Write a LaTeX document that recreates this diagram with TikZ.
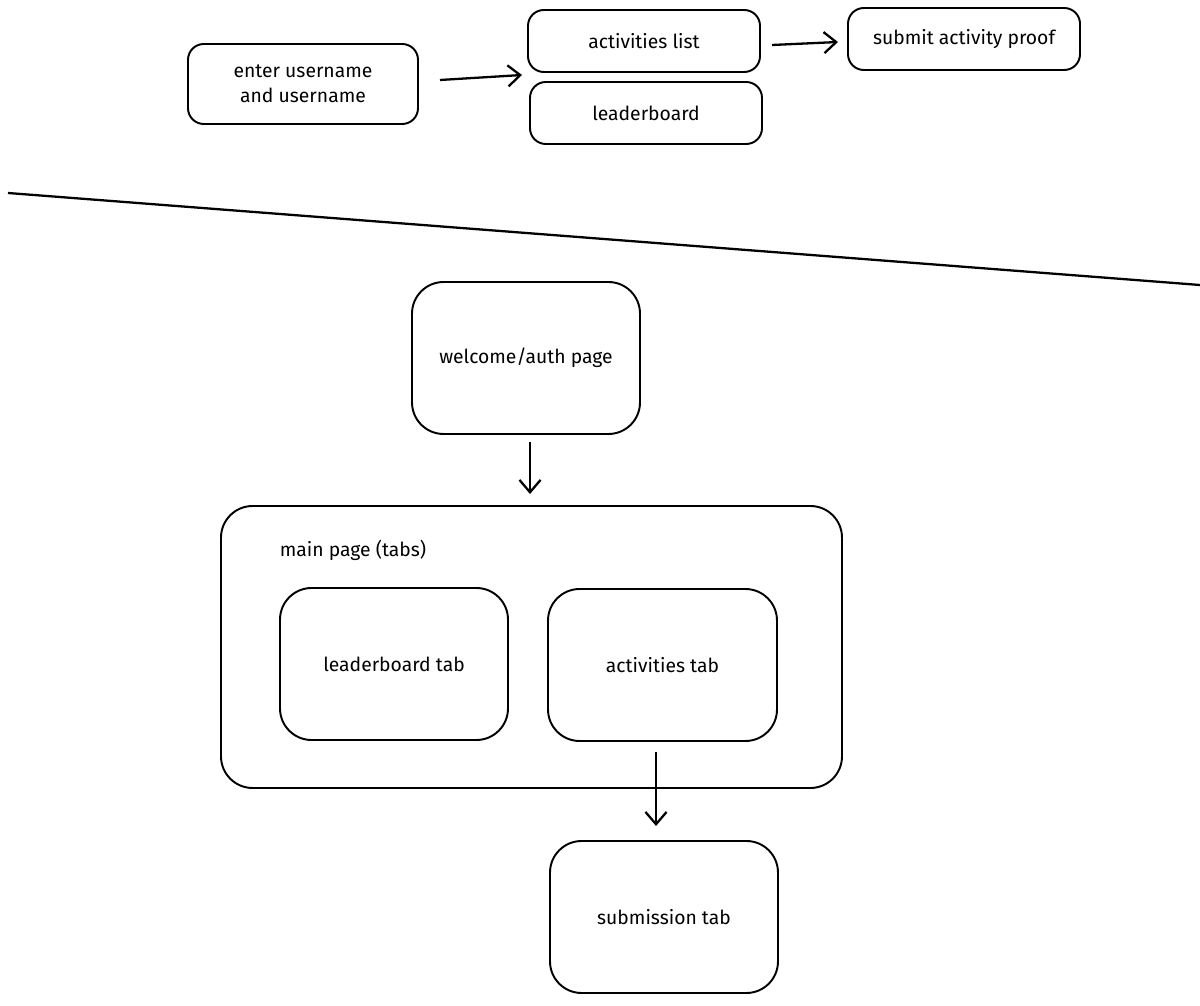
\documentclass[tikz,border=0pt]{standalone}
\usepackage{fontspec}
\setmainfont{Fira Sans}
\usetikzlibrary{arrows.meta}
\begin{document}
\begin{tikzpicture}[x=0.02cm,y=-0.02cm,
  box/.style={draw,line width=1.1pt,rounded corners=9pt,align=center,font=\fontsize{11}{14}\selectfont},
  arr/.style={line width=1.3pt,-{Straight Barb[length=7pt,width=12pt]}}]
\useasboundingbox (0,0) rectangle (1200,1006);
\newcommand\bx[4]{\draw[line width=1.1pt,rounded corners=14pt] #1 rectangle #2; \node[font=\fontsize{11}{14}\selectfont,align=center] (#3) at ($#1!0.5!#2$) {#4};}
\draw[box] (188,44) rectangle (418,124) node[midway,draw=none] (eu) {enter username\\and username};
\draw[box] (528,10) rectangle (760,72) node[midway,draw=none] (al) {activities list};
\draw[box] (530,82) rectangle (762,144) node[midway,draw=none] (lb) {leaderboard};
\draw[box] (848,8) rectangle (1080,70) node[midway,draw=none] (sp) {submit activity proof};
\coordinate (a1) at (440,80); \coordinate (a2) at (522,75);
\draw[arr] (a1) -- (a2);
\coordinate (b1) at (772,45); \coordinate (b2) at (838,42);
\draw[arr] (b1) -- (b2);
\coordinate (l1) at (8,193); \coordinate (l2) at (1200,285);
\draw[line width=1.3pt] (l1) -- (l2);
\draw[box,rounded corners=18pt] (412,282) rectangle (640,434) node[midway,draw=none] (wa) {welcome/auth page};
\coordinate (c1) at (530,442); \coordinate (c2) at (530,494);
\draw[arr] (c1) -- (c2);
\draw[box,rounded corners=18pt] (221,506) rectangle (842,788);
\node[font=\fontsize{11}{14}\selectfont] (mp) at (353,550) {main page (tabs)};
\draw[box,rounded corners=18pt] (280,588) rectangle (508,740) node[midway,draw=none] (lt) {leaderboard tab};
\draw[box,rounded corners=18pt] (548,589) rectangle (777,741) node[midway,draw=none] (at) {activities tab};
\coordinate (d1) at (656,752); \coordinate (d2) at (656,826);
\draw[arr] (d1) -- (d2);
\draw[box,rounded corners=18pt] (550,841) rectangle (778,993) node[midway,draw=none] (st) {submission tab};
\end{tikzpicture}
\end{document}
